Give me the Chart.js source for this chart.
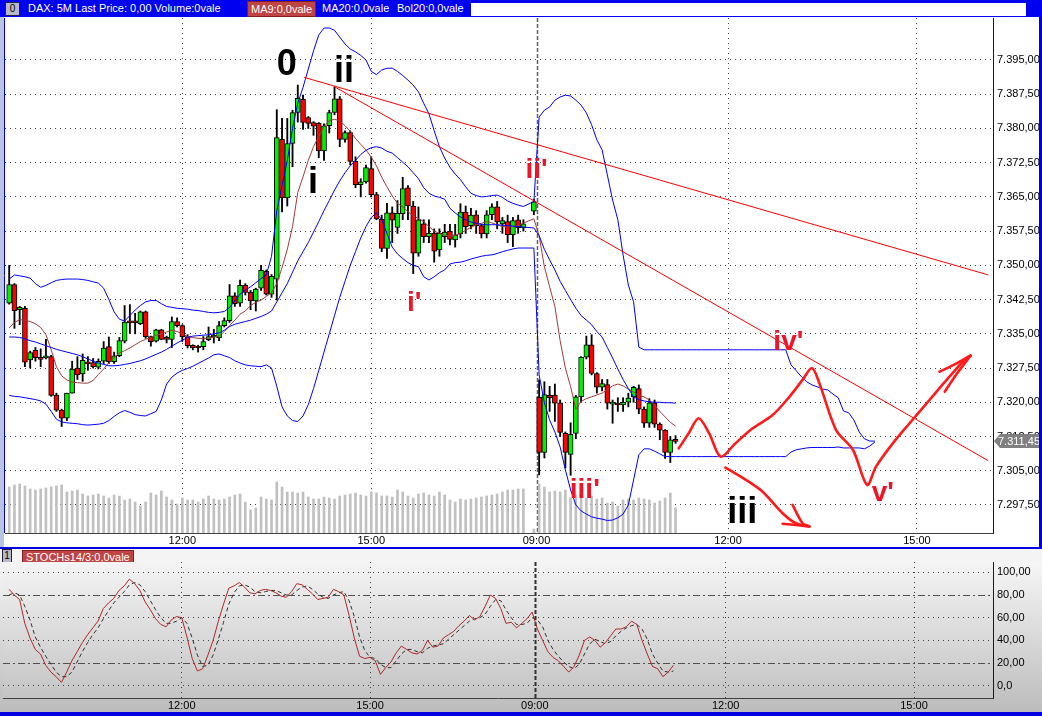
<!DOCTYPE html>
<html>
<head>
<meta charset="utf-8">
<script src="https://cdn.jsdelivr.net/npm/chart.js@4.4.1/dist/chart.umd.min.js"></script>
<style>
  body { margin: 0; width: 1042px; height: 716px; position: relative; overflow: hidden; background: #fff; font-family: "Liberation Sans", Arial, sans-serif; }
  #topbar { position: absolute; left: 0; top: 0; width: 1042px; height: 17px; background: #0000f0; color: #fff; font-size: 11px; }
  #topbar span { position: absolute; top: 2px; white-space: nowrap; }
  .ico { position: absolute; width: 13px; height: 12px; background: #b8b8c8; border: 1px solid #202040; color: #000; font-size: 10px; line-height: 12px; text-align: center; }
  .tag { position: absolute; height: 14px; top: 1px !important; line-height: 14px; padding: 0 3px; background: #c04444; border: 1px solid #802020; color: #fff; }
  #topwhite { position: absolute; left: 471px; top: 3px; width: 555px; height: 13px; background: #fff; }
  #leftstrip { position: absolute; left: 0; top: 17px; width: 4px; height: 531px; background: #b8c4e0; }
  #mainwrap { position: absolute; left: 0; top: 18px; width: 1042px; height: 530px; }
  #sep { position: absolute; left: 0; top: 547px; width: 1042px; height: 2px; background: #0000e0; }
  #stochhead { position: absolute; left: 0; top: 549px; width: 1042px; height: 13px; background: #f4f4f4; font-size: 11px; }
  #stochwrap { position: absolute; left: 0; top: 562px; width: 1042px; height: 150px; background: linear-gradient(#f6f6f6, #bcbcbc); }
  #bottomline { position: absolute; left: 0; top: 712px; width: 1042px; height: 4px; background: #0000e0; }
  #rightline { position: absolute; left: 1039px; top: 17px; width: 3px; height: 531px; background: #0000e0; }
</style>
</head>
<body>
<div id="topbar">
  <div class="ico" style="left:5px;top:2px;">0</div>
  <span style="left:28px;">DAX: 5M Last Price: 0,00 Volume:0vale</span>
  <span class="tag" style="left:247px;">MA9:0,0vale</span>
  <span style="left:322px;">MA20:0,0vale</span>
  <span style="left:397px;">Bol20:0,0vale</span>
  <div id="topwhite"></div>
</div>
<div id="leftstrip"></div>
<div id="mainwrap"><canvas id="priceChart" width="1042" height="530"></canvas></div>
<div id="rightline"></div>
<div id="sep"></div>
<div id="stochhead">
  <div class="ico" style="left:2px;top:0px;width:8px;">1</div>
  <span class="tag" style="position:absolute;left:22px;top:0px;height:12px;line-height:12px;">STOCHs14/3:0,0vale</span>
</div>
<div id="stochwrap"><canvas id="stochChart" width="1042" height="150"></canvas></div>
<div id="bottomline"></div>

<script>
// 5 minute DAX bars, two sessions. index 99 is an empty slot, 100 is the closing auction bar
const openP = [7341.7,7345.8,7340.3,7340.6,7329.3,7331.4,7329.6,7329.7,7330,7321.6,
  7318.3,7316.5,7322,7327.5,7326.2,7328.6,7328.7,7327.7,7329,7332.2,
  7328.9,7330.2,7333.4,7337.6,7337.5,7337.2,7339.8,7334.4,7333.4,7335.9,
  7333.9,7333.8,7337.7,7336.8,7334.4,7332.5,7332,7332.2,7333.7,7334.3,
  7334.1,7336.8,7337.9,7343.3,7341.7,7345.6,7344.1,7342.2,7345,7348.7,
  7343.7,7347,7377.6,7364.8,7376.7,7383.5,7386.4,7382.4,7381.3,7381.1,
  7375.1,7380.6,7383.5,7386.5,7377.6,7379.1,7372.8,7367.7,7368.3,7371.2,
  7365.5,7360.1,7353.7,7361.5,7358.3,7361.3,7367,7363,7352.7,7359.1,
  7356.3,7357.1,7353.4,7356.3,7357.5,7355.6,7356.9,7361.7,7358.7,7361.1,
  7358.7,7356.9,7361.1,7362.8,7359.1,7359.6,7356.7,7360,7358.2,null,
  7361.9,7321.1,7309,7321.5,7321.6,7319.9,7313.2,7308.6,7313.2,7321.2,
  7329.9,7332.6,7326.3,7323.3,7323.9,7319.6,7319.5,7319.4,7320,7321.2,
  7323,7318.5,7315.4,7319.9,7315.2,7313.9,7309,7311.9];
const highP = [7350,7346,7341,7341,7331.2,7332,7331.7,7333.8,7330.3,7322,
  7318.5,7322,7329,7330,7330.6,7330,7329.6,7329.5,7333.3,7334.3,
  7331,7334.2,7341.2,7341.4,7339.5,7340,7340,7334.5,7336,7336,
  7334.5,7338.7,7338.5,7337,7334.8,7332.6,7332.5,7334.4,7336.5,7336,
  7337.7,7338.5,7345.8,7344,7346.8,7346,7344.5,7345,7350,7349,
  7348,7384.1,7382.2,7382.2,7384,7389.5,7387.3,7382.6,7381.5,7381.3,
  7381,7384,7389.1,7387,7379.5,7379.5,7373.8,7369,7372,7373.8,
  7366,7361,7363.6,7362.8,7364.2,7369.3,7367.5,7364,7362.8,7360,
  7360,7358,7358,7359,7359,7359,7363.5,7363,7362.5,7362,
  7359,7362,7363.5,7364,7360.5,7361,7360.5,7361,7360,null,
  7364.5,7324.9,7324.5,7323.5,7324,7320.5,7313.5,7315.5,7321.5,7330,
  7334.5,7334.8,7326.5,7325,7325,7320.5,7321,7321,7322,7323.5,
  7323.8,7319,7320.8,7320.5,7315.5,7314,7312.5,7312.7];
const lowP = [7341.5,7336.2,7337,7327.8,7327.5,7329,7327.8,7329.5,7321.3,7318,
  7314.7,7316,7322,7325,7324.6,7327,7327.5,7327.3,7328.5,7328.5,
  7328.5,7330,7333,7335.1,7335,7337,7334,7332.3,7333.2,7333.7,
  7333,7332,7336.5,7333.3,7331.9,7331.5,7331,7331.5,7333.5,7333,
  7333.5,7336.5,7337.5,7341,7341,7343.5,7340.3,7340,7344.5,7343.5,
  7343,7342.4,7361.7,7363,7371.6,7381.4,7379.8,7380,7378.5,7373.6,
  7373,7379,7383,7376,7377,7372,7367,7365,7368,7365,
  7360,7353,7351.5,7355,7357,7360,7360,7348.2,7352,7355,
  7355,7350.7,7352,7355,7354.5,7354,7356,7357,7358,7357,
  7356,7356,7360,7358,7357,7355,7354.1,7357,7357.5,null,
  7361.1,7304.1,7307.8,7318,7315.8,7312.5,7305.6,7304,7312,7320,
  7329.5,7326,7322,7322.5,7318.5,7315.4,7318,7318,7319,7320,
  7317.5,7314.5,7314.5,7314.5,7311.8,7307.7,7306.8,7311];
const closeP = [7345.8,7340.1,7340.8,7328.8,7330.9,7329.8,7329.4,7330.2,7321.5,7318.3,
  7316.5,7322,7327.3,7326,7329.2,7328.4,7327.8,7329,7331.9,7328.9,
  7330.2,7333.5,7337.6,7337.4,7337.4,7339.8,7334.4,7333.3,7335.9,7333.8,
  7333.8,7337.7,7336.8,7334.4,7332.4,7331.9,7331.9,7333.3,7334.4,7334.5,
  7336.8,7337.9,7343.3,7341.6,7345.6,7344.1,7342.2,7344.8,7348.9,7343.7,
  7347.6,7378,7364.8,7376.7,7383.5,7386.6,7381.3,7381.1,7380.5,7375.1,
  7380.6,7383.5,7386.5,7377.6,7379.1,7372.8,7367.7,7368.3,7371.4,7365.5,
  7360.2,7353.7,7361.5,7359.9,7361.4,7366.8,7363,7352.7,7360,7356.3,
  7357.1,7353.1,7357,7357.3,7355.7,7356.7,7361.7,7358.5,7361,7358.7,
  7356.9,7361.1,7362.8,7359.5,7359.8,7356.7,7359.8,7358.2,7359.1,null,
  7363.9,7309,7321.7,7321,7319.8,7313.4,7309,7313,7321.2,7329.9,
  7332.6,7326.3,7323.3,7324.1,7319.8,7319.6,7319.4,7320,7320.9,7323.3,
  7318.5,7315.4,7319.9,7315.2,7313.9,7309,7311.8,7311.45];
const volume = [46,48,49,47,44,43,44,45,46,47,48,
  41,42,43,39,37,38,39,37,35,38,
  37,33,34,31,27,31,40,38,42,36,33,29,35,
  33,33,31,34,37,34,33,34,36,38,39,31,23,25,36,34,33,
  51,46,41,41,40,41,36,34,34,36,
  35,34,37,38,39,40,38,37,41,40,37,37,36,43,41,
  37,35,39,40,38,37,41,38,33,31,34,33,34,35,36,37,38,39,41,43,43,44,44,
  null,4,
  49,46,41,42,41,43,35,38,39,35,37,34,35,30,31,27,33,34,33,35,34,33,30,32,35,40,25];
const ma9 = [7336.3,7337.5,7338.1,7338,7337.7,7337.2,7336.4,7334.8,7331.5,7327.8,
  7325.8,7324.9,7324.4,7324.3,7324.2,7324.2,7324.8,7326.1,7327.3,7328.7,
  7329.8,7330.8,7331.3,7331.9,7332.6,7333.3,7333.8,7334.2,7334.7,7335,
  7335.4,7335.8,7335.5,7335,7334.4,7334.2,7334,7334,7334,7334.3,
  7334.5,7335.5,7336.8,7338,7339.3,7340,7341.2,7341.9,7342.4,7343.2,
  7344,7346,7349.5,7353.5,7358.5,7366,7369.4,7373,7376,7378.3,
  7380.4,7381.7,7382,7381.7,7380.6,7379.4,7377.8,7376.5,7375.3,7373.7,
  7371.8,7369.3,7367.2,7365.2,7363.6,7362.8,7361.8,7360.8,7360.3,7359.6,
  7358.5,7357.5,7357,7356.6,7356.4,7356.6,7357,7357.7,7358.3,7358.9,
  7359.2,7359.6,7359.3,7358.9,7358.5,7358.4,7358.5,7358.6,7359.3,null,
  7360.2,7356.5,7349.7,7345.3,7341,7333.5,7327.5,7323.4,7318.5,7320.2,
  7320.8,7321.2,7321.6,7322,7322.8,7323.6,7324,7323.6,7322.9,7322.2,
  7321.5,7321.2,7320.5,7319.3,7318,7316.8,7315.6,7314.8];
const bollUpper = [7347,7347.9,7347.7,7347.5,7347.2,7346,7345.2,7345.6,7346.2,7346.7,
  7346.9,7347,7347,7347,7346.9,7346.7,7346.4,7346.1,7345,7342.5,
  7339.8,7338.2,7337.8,7339,7340.2,7341.2,7342,7342.3,7342.3,7341.6,
  7341,7340.8,7340.6,7340.5,7340.4,7340.2,7340.1,7339.9,7339.7,7339.6,
  7339.7,7339.9,7340.8,7342.2,7343.7,7344.6,7345.3,7346.2,7347.1,7347.9,
  7352,7362,7367.5,7373,7380,7385.5,7389,7393,7397,7400.5,
  7402,7402,7401.5,7400,7398.5,7397.4,7396.8,7396,7395,7392.5,
  7391.8,7392.8,7393.2,7393.2,7392.5,7391.6,7390.6,7389.5,7388,7385.5,
  7383.2,7379.5,7376,7373.5,7371.5,7370,7368.8,7367.2,7365.8,7365.3,
  7365,7365.1,7365.3,7365.4,7364.9,7364.1,7363.6,7363.2,7362.9,null,
  7364,7382.5,7384,7384.7,7386.2,7386.9,7387.3,7387.1,7386.2,7385.1,
  7383.4,7380.8,7377.5,7375.3,7369.8,7364.3,7360,7352.3,7345.7,7342,
  7332.1,7331.5,7331.5,7331.5,7331.5,7331.5,7331.5,7331.5,7331.5,7331.5,
  7331.5,7331.5,7331.5,7331.5,7331.5,7331.5,7331.5,7331.5,7331.5,7331.5,
  7331.5,7331.5,7331.5,7331.5,7331.5,7331.5,7331.5,7331.5,7331.5,7328.2,
  7326.9,7325.6,7324.5,7323.8,7323.4,7322.9,7322.7,7321.8,7321,7318.1,
  7317.7,7316.1,7313.5,7312,7311.5,7311.5];
const bollMid = [7334.3,7334.3,7334.2,7333.9,7333.5,7333.2,7332.8,7332.4,7332,7331.6,
  7331.3,7331,7330.7,7330.4,7330,7329.5,7329,7328.6,7328.3,7328,
  7328,7328.1,7328.3,7328.5,7328.8,7329.1,7329.5,7330,7330.5,7331,
  7331.6,7332.3,7333,7333.6,7334.2,7334.5,7334.6,7334.7,7334.8,7335,
  7335.2,7335.8,7336.6,7337.1,7337.4,7337.7,7338,7338.4,7338.8,7339.3,
  7340,7342,7344,7346,7348.5,7351,7353,7355,7357.3,7359.6,
  7362,7364.2,7366.5,7368.5,7370.3,7371.8,7373,7374.3,7375.2,7375.8,
  7376,7375.7,7375,7374.6,7373.6,7372.6,7371.6,7370.3,7369,7367,
  7365.8,7365.2,7364.9,7364.5,7362.5,7361.5,7360.6,7360,7359.5,7359.2,
  7359,7358.9,7358.9,7358.9,7358.8,7358.7,7358.6,7358.5,7358.4,null,
  7358.2,7356.5,7353.5,7351.2,7349,7346.5,7344.5,7342.5,7340.6,7339,
  7338,7337,7335.5,7334.3,7332,7329.7,7327.3,7325,7323,7321.2,
  7320.6,7320.3,7320.1,7320,7320,7319.9,7319.9,7319.8];
const bollLower = [7321.5,7321.3,7321.2,7321,7320.8,7320.6,7320.3,7319.6,7318,7316.3,
  7315.7,7315.5,7315.4,7315.3,7315.1,7315,7315.1,7315.2,7315.4,7316,
  7316.9,7317.7,7318.2,7317.8,7317.3,7317.1,7317,7317.5,7318,7320.5,
  7324,7325.5,7326.4,7327,7327.4,7327.9,7328.5,7329.1,7329.7,7330.4,
  7330.6,7330.2,7329.8,7329.1,7328.6,7328.2,7328,7327.9,7327.8,7328.2,
  7327.5,7323.5,7319,7317,7316,7315.8,7317,7319.5,7323,7327,
  7331,7335,7339,7343,7346.5,7350,7353,7356,7358.5,7360.5,
  7361.5,7360,7357,7354,7352.5,7351.5,7350.6,7350,7349.7,7347.5,
  7346.8,7347.5,7348.4,7349,7350.3,7350.6,7350.7,7351,7351.4,7351.7,
  7352,7352.2,7352.3,7352.6,7353,7353.3,7353.6,7353.8,7353.8,null,
  7353.8,7326,7319.9,7316.1,7313.5,7310.2,7305.2,7300.8,7297.5,7296.2,
  7295.5,7294.9,7294.6,7294.4,7294.1,7294.2,7294.7,7295.5,7297.5,7303,
  7308.5,7309.8,7309.8,7309.3,7308.7,7308.1,7308.1,7308.1,7308.1,7308.1,
  7308.1,7308.1,7308.1,7308.1,7308.1,7308.1,7308.1,7308.1,7308.1,7308.1,
  7308.1,7308.1,7308.1,7308.1,7308.1,7308.1,7308.1,7308.1,7308.1,7309.1,
  7309.6,7309.8,7310,7310.1,7310.1,7310.1,7310.1,7310.1,7310.2,7310,
  7310,7310,7310,7309.8,7310.4,7311.3];
const stochK = [85,80,76,55,42,32,28,18,12,8,
  3,12,22,30,38,45,51,57,68,73,
  77,84,88,94,90,84,74,67,59,54,
  52,58,61,60,43,24,13,15,27,40,
  57,72,86,88,91,87,82,81,84,85,
  84,82,79,78,83,90,89,85,81,76,
  77,78,85,83,80,62,42,26,24,25,
  22,10,16,21,29,35,32,29,28,31,
  40,34,35,42,45,48,53,57,62,58,
  61,70,80,77,68,55,56,51,55,59,
  65,50,40,30,25,22,17,12,17,27,
  40,43,40,34,38,44,50,50,52,57,
  54,40,28,17,15,8,12,18];
const stochD = [80,82,80,70,58,43,34,26,19,12,
  8,8,12,21,30,38,45,51,59,66,
  73,78,83,89,91,89,83,75,67,60,
  55,55,57,60,55,42,27,17,18,27,
  41,56,72,82,88,89,87,83,82,83,
  84,84,82,80,80,84,87,88,85,81,
  78,77,80,82,83,75,61,43,31,25,
  24,19,16,16,22,28,32,32,30,29,
  33,35,36,37,41,45,49,53,57,59,
  60,63,70,76,75,67,60,54,54,55,
  60,58,52,40,32,26,21,17,15,19,
  28,37,41,39,37,39,44,48,51,53,
  54,50,41,28,20,13,12,13];

const timeTickIdx = [33, 69, 100.5, 137, 173];
const timeTickText = ['12:00', '15:00', '09:00', '12:00', '15:00'];
const priceTicks = [7297.5, 7305, 7312.5, 7320, 7327.5, 7335, 7342.5, 7350, 7357.5, 7365, 7372.5, 7380, 7387.5, 7395];
const stochTicks = [0, 20, 40, 60, 80, 100];
const stochTickText = ['0,0', '20,00', '40,00', '60,00', '80,00', '100,00'];
const sessionBreak = 100.5;

// drawn analysis: trend lines and the hand drawn wave count, as [bar index, price]
const trendUpper = [[56.2, 7391.2], [186.6, 7347.9]];
const trendLower = [[61.9, 7389.2], [186.6, 7307.2]];
const wavePath = [[127.6, 7309.9], [129.5, 7313.2], [131.4, 7316.5], [133.4, 7313.2], [135.6, 7308.1],
  [138.4, 7311], [141.7, 7314.3], [145.5, 7317.2], [148.7, 7321.2], [151.2, 7324.9], [153, 7327.5],
  [154.4, 7324.2], [157.6, 7313.9], [160.8, 7309.6], [163.5, 7301.9], [165.2, 7305.9], [168.4, 7311],
  [171.6, 7315.4], [175.4, 7320.5], [179.2, 7325.6], [182.4, 7329.7], [183.2, 7330.2]];
const waveHead1 = [[177.3, 7326.7], [180, 7328.2], [183.2, 7330.2]];
const waveHead2 = [[178.3, 7322.3], [180.5, 7326.1], [183.2, 7330.2]];
const dropPath = [[136.5, 7305.7], [140.4, 7303], [143.6, 7300.4], [147.4, 7295.7], [149.9, 7293.5], [152.5, 7292.8]];
const dropHead1 = [[149.3, 7297.5], [151.2, 7293.5], [152.5, 7292.8]];
const dropHead2 = [[147.4, 7293.4], [152.5, 7292.8]];

const waveLabels = ['0', 'ii', 'i', "i'", "ii'", "iii'", "iv'", "v'", 'iii'];
const waveLabelIdx = [52.9, 63.8, 57.9, 77.2, 100.5, 109.7, 148.5, 166.5, 139.7];
const waveLabelPrice = [7393.9, 7392.4, 7368.1, 7341.8, 7370.9, 7300.8, 7333.2, 7300.1, 7295.8];
const waveLabelRed = [false, false, false, true, true, true, true, true, false];

function deFormat(v) {
  let parts = v.toFixed(2).split('.');
  let intPart = parts[0].replace(/\B(?=(\d{3})+(?!\d))/g, '.');
  return intPart + ',' + parts[1];
}

function pts(arr) {
  return arr.map((v, i) => ({ x: i, y: v }));
}
function pairs(arr) {
  return arr.map(p => ({ x: p[0], y: p[1] }));
}

Chart.defaults.font.family = '"Liberation Sans", Arial, sans-serif';
Chart.defaults.font.size = 11;
Chart.defaults.color = '#000';
Chart.defaults.animation = false;

function lineSet(data, color, width, extra) {
  return Object.assign({
    type: 'line', data: data, borderColor: color, borderWidth: width,
    pointRadius: 0, fill: false, tension: 0, spanGaps: true, order: 1, yAxisID: 'y'
  }, extra || {});
}

function freeSet(arr) {
  return lineSet(pairs(arr), '#ff1a1a', 2.6, { tension: 0.3, borderCapStyle: 'round', borderJoinStyle: 'round', order: 0 });
}

let wicks = lowP.map((l, i) => ({ x: i, y: l === null ? null : [l, highP[i]] }));
let bodies = openP.map((o, i) => ({ x: i, y: o === null ? null : [o, closeP[i]] }));
let bodyColors = openP.map((o, i) => closeP[i] >= o ? '#00f000' : '#ff0000');

const dottedGrid = (skip) => ({
  color: (ctx) => (ctx.tick && skip.includes(ctx.tick.value)) ? 'rgba(0,0,0,0)' : '#404040',
  lineWidth: 1,
  offset: false,
  drawTicks: false
});

const plotBackground = {
  id: 'plotBackground',
  beforeDraw(chart, args, opts) {
    const a = chart.chartArea, c = chart.ctx;
    c.save();
    if (opts.gradient) {
      let g = c.createLinearGradient(0, a.top, 0, a.bottom);
      g.addColorStop(0, '#f4f4f4');
      g.addColorStop(1, '#c4c4c4');
      c.fillStyle = g;
    } else {
      c.fillStyle = '#ffffff';
    }
    c.fillRect(a.left, a.top, a.right - a.left, a.bottom - a.top);
    c.restore();
  }
};

const sessionLine = {
  id: 'sessionLine',
  beforeDatasetsDraw(chart, args, opts) {
    const a = chart.chartArea, c = chart.ctx;
    const x = Math.round(chart.scales.x.getPixelForValue(sessionBreak)) + 0.5;
    c.save();
    c.strokeStyle = opts.color || '#555';
    c.lineWidth = opts.width || 1;
    c.setLineDash([4, 2]);
    c.beginPath();
    c.moveTo(x, a.top);
    c.lineTo(x, a.bottom);
    c.stroke();
    if (opts.dashDot) {
      c.strokeStyle = '#505050';
      c.lineWidth = 1;
      c.setLineDash([7, 3, 2, 3]);
      opts.dashDot.forEach(v => {
        const y = Math.round(chart.scales.y.getPixelForValue(v)) + 0.5;
        c.beginPath();
        c.moveTo(a.left, y);
        c.lineTo(a.right, y);
        c.stroke();
      });
    }
    c.restore();
  }
};

const waveText = {
  id: 'waveText',
  afterDatasetsDraw(chart) {
    const c = chart.ctx, xs = chart.scales.x, ys = chart.scales.y;
    c.save();
    c.textAlign = 'center';
    c.textBaseline = 'middle';
    waveLabels.forEach((t, i) => {
      c.fillStyle = waveLabelRed[i] ? '#f01428' : '#000';
      c.font = waveLabelRed[i] ? 'bold 28px "Liberation Sans", Arial, sans-serif' : 'bold 36px "Liberation Sans", Arial, sans-serif';
      c.fillText(t, xs.getPixelForValue(waveLabelIdx[i]), ys.getPixelForValue(waveLabelPrice[i]));
    });
    c.restore();
  }
};

const lastPrice = {
  id: 'lastPrice',
  afterDraw(chart) {
    const c = chart.ctx, a = chart.chartArea;
    const last = closeP[closeP.length - 1];
    const y = Math.round(chart.scales.y.getPixelForValue(last));
    c.save();
    c.fillStyle = '#808080';
    c.beginPath();
    c.moveTo(a.right + 1, y);
    c.lineTo(a.right + 7, y - 7);
    c.lineTo(a.right + 48, y - 7);
    c.lineTo(a.right + 48, y + 7);
    c.lineTo(a.right + 7, y + 7);
    c.closePath();
    c.fill();
    c.fillStyle = '#fff';
    c.font = '11px "Liberation Sans", Arial, sans-serif';
    c.textBaseline = 'middle';
    c.fillText(deFormat(last), a.right + 5, y + 1);
    // left frame line of the plot
    c.strokeStyle = '#0000e0';
    c.lineWidth = 1;
    c.beginPath();
    c.moveTo(a.left - 0.5, a.top);
    c.lineTo(a.left - 0.5, a.bottom);
    c.stroke();
    c.restore();
  }
};

const xAxisCommon = (min, max, h) => ({
  type: 'linear', min: min, max: max, offset: false,
  afterBuildTicks: (s) => { s.ticks = timeTickIdx.map(v => ({ value: v })); },
  ticks: { autoSkip: false, maxRotation: 0, padding: 1, callback: (v) => timeTickText[timeTickIdx.indexOf(v)] },
  grid: dottedGrid([sessionBreak]),
  border: { display: true, color: '#404040', dash: [1, 4] },
  afterFit: (s) => { s.height = h; s.paddingLeft = 0; s.paddingRight = 0; }
});

new Chart(document.getElementById('priceChart'), {
  type: 'bar',
  data: {
    datasets: [
      lineSet(pairs(trendUpper), '#ff0000', 1),
      lineSet(pairs(trendLower), '#ff0000', 1),
      freeSet(wavePath), freeSet(waveHead1), freeSet(waveHead2),
      freeSet(dropPath), freeSet(dropHead1), freeSet(dropHead2),
      lineSet(pts(bollUpper), '#0000ff', 1, { order: 2 }),
      lineSet(pts(bollMid), '#0000ff', 1, { order: 2 }),
      lineSet(pts(bollLower), '#0000ff', 1, { order: 2 }),
      lineSet(pts(ma9), '#a03c3c', 1, { order: 2 }),
      { type: 'bar', data: bodies, backgroundColor: bodyColors, borderColor: '#000', borderWidth: 1, borderSkipped: false,
        barThickness: 5, minBarLength: 2, grouped: false, order: 5, yAxisID: 'y' },
      { type: 'bar', data: wicks, backgroundColor: '#000', barThickness: 1.2, grouped: false, order: 6, yAxisID: 'y' },
      { type: 'bar', data: pts(volume), backgroundColor: '#c0c0c0', barThickness: 2, grouped: false, order: 9, yAxisID: 'yVol' }
    ]
  },
  options: {
    responsive: false,
    layout: { padding: { left: 5, right: 0, top: 0, bottom: 0 } },
    plugins: { legend: { display: false }, tooltip: { enabled: false }, sessionLine: { color: '#606060', width: 1.5 } },
    scales: {
      x: xAxisCommon(-0.8, 187.5, 15),
      y: {
        type: 'linear', position: 'right', min: 7291.36, max: 7404.2,
        afterBuildTicks: (s) => { s.ticks = priceTicks.map(v => ({ value: v })); },
        ticks: { padding: 4, callback: (v) => deFormat(v) },
        grid: dottedGrid([]),
        border: { display: true, color: '#0000e0', dash: [1, 4] },
        afterFit: (s) => { s.width = 49; s.paddingTop = 0; s.paddingBottom = 0; }
      },
      yVol: { type: 'linear', display: false, min: 0, max: 515 }
    }
  },
  plugins: [plotBackground, sessionLine, waveText, lastPrice]
});

new Chart(document.getElementById('stochChart'), {
  type: 'line',
  data: {
    datasets: [
      lineSet(pts(stochD), '#303030', 1, { borderDash: [4, 3] }),
      lineSet(pts(stochK), '#b02828', 1, { order: 0 })
    ]
  },
  options: {
    responsive: false,
    layout: { padding: { left: 3, right: 0, top: 0, bottom: 0 } },
    plugins: { legend: { display: false }, tooltip: { enabled: false }, plotBackground: { gradient: true },
      sessionLine: { color: '#303030', width: 2, dashDot: [20, 80] } },
    scales: {
      x: xAxisCommon(-1.17, 188.1, 14),
      y: {
        type: 'linear', position: 'right', min: -10.8, max: 109.1,
        afterBuildTicks: (s) => { s.ticks = stochTicks.map(v => ({ value: v })); },
        ticks: { padding: 4, callback: (v) => stochTickText[stochTicks.indexOf(v)] },
        grid: dottedGrid([20, 80]),
        border: { display: true, color: '#0000e0', dash: [1, 4] },
        afterFit: (s) => { s.width = 49; s.paddingTop = 0; s.paddingBottom = 0; }
      }
    }
  },
  plugins: [plotBackground, sessionLine]
});
</script>
</body>
</html>
